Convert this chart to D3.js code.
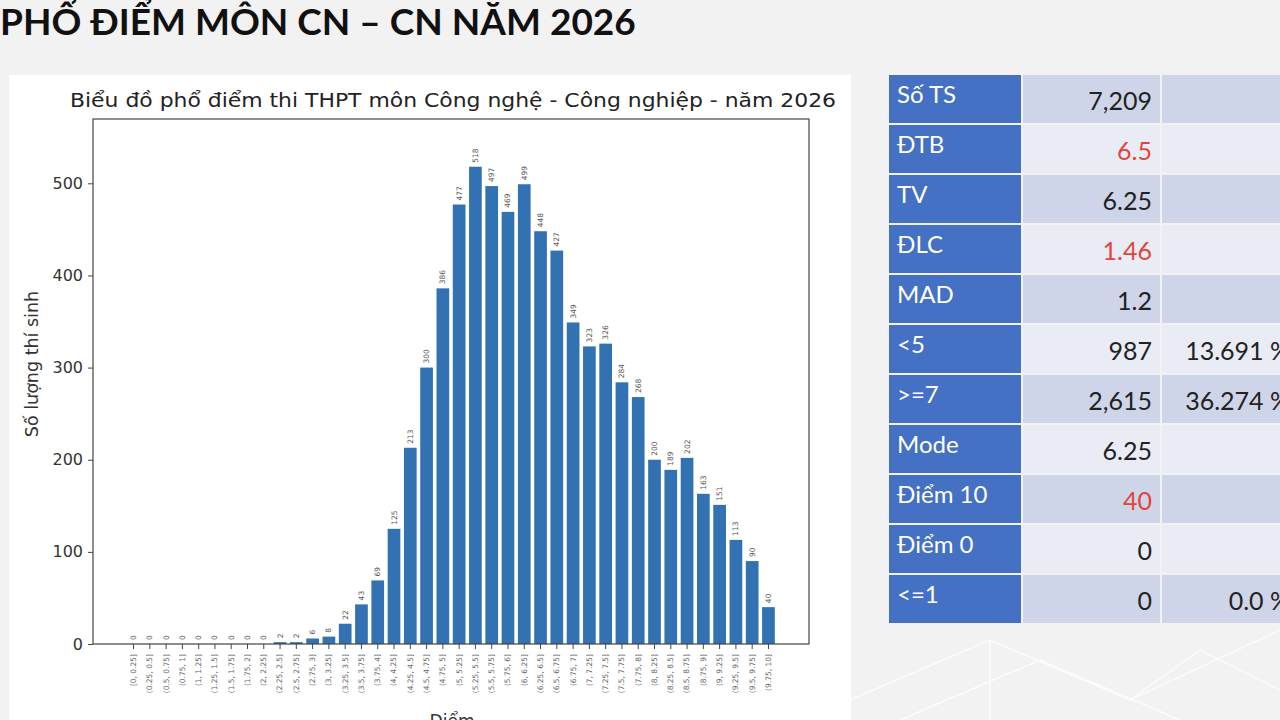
<!DOCTYPE html>
<html>
<head>
<meta charset="utf-8">
<script src="https://cdn.jsdelivr.net/npm/d3@7"></script>
<style>
  body { margin: 0; background: #f2f2f2; }
  svg { display: block; }
</style>
</head>
<body>
<div id="container"></div>
<script>
// score bins (0.25 wide) and counts
const bins = ["[0, 0.25]", "(0.25, 0.5]", "(0.5, 0.75]", "(0.75, 1]", "(1, 1.25]", "(1.25, 1.5]",
  "(1.5, 1.75]", "(1.75, 2]", "(2, 2.25]", "(2.25, 2.5]", "(2.5, 2.75]", "(2.75, 3]", "(3, 3.25]",
  "(3.25, 3.5]", "(3.5, 3.75]", "(3.75, 4]", "(4, 4.25]", "(4.25, 4.5]", "(4.5, 4.75]", "(4.75, 5]",
  "(5, 5.25]", "(5.25, 5.5]", "(5.5, 5.75]", "(5.75, 6]", "(6, 6.25]", "(6.25, 6.5]", "(6.5, 6.75]",
  "(6.75, 7]", "(7, 7.25]", "(7.25, 7.5]", "(7.5, 7.75]", "(7.75, 8]", "(8, 8.25]", "(8.25, 8.5]",
  "(8.5, 8.75]", "(8.75, 9]", "(9, 9.25]", "(9.25, 9.5]", "(9.5, 9.75]", "(9.75, 10]"];
const counts = [0, 0, 0, 0, 0, 0, 0, 0, 0, 2, 2, 6, 8, 22, 43, 69, 125, 213, 300, 386, 477, 518,
  497, 469, 499, 448, 427, 349, 323, 326, 284, 268, 200, 189, 202, 163, 151, 113, 90, 40];
const yTicks = [0, 100, 200, 300, 400, 500];

// stats table
const statLabels = ["Số TS", "ĐTB", "TV", "ĐLC", "MAD", "<5", ">=7", "Mode", "Điểm 10", "Điểm 0", "<=1"];
const statValues = ["7,209", "6.5", "6.25", "1.46", "1.2", "987", "2,615", "6.25", "40", "0", "0"];
const statPercents = ["", "", "", "", "", "13.691 %", "36.274 %", "", "", "", "0.0 %"];
const statRed = [false, true, false, true, false, false, false, false, true, false, false];

const W = 1280, H = 720;

const svg = d3.select("#container")
  .append("svg")
  .attr("width", W)
  .attr("height", H);

// faint background pattern, bottom right
const bgLine = d3.line();
[[[850, 700], [990, 640], [1130, 700], [1280, 630]],
 [[900, 720], [1040, 660], [1180, 720]],
 [[990, 640], [990, 720]],
 [[1130, 700], [1200, 650], [1280, 690]]].forEach(pts => {
  svg.append("path")
    .attr("d", bgLine(pts))
    .attr("fill", "none")
    .attr("stroke", "#fbfbfb")
    .attr("stroke-width", 1.5);
});

// page title
svg.append("text")
  .attr("x", 0)
  .attr("y", 35)
  .attr("font-family", "Lato, sans-serif")
  .attr("font-weight", "bold")
  .attr("font-size", 37)
  .attr("fill", "#111")
  .text("PHỔ ĐIỂM MÔN CN – CN NĂM 2026");

// white chart panel
svg.append("rect")
  .attr("x", 9).attr("y", 75)
  .attr("width", 842).attr("height", 660)
  .attr("fill", "#fff");

const plot = { left: 93, right: 809, top: 119, bottom: 644 };

const x = d3.scaleBand()
  .domain(bins)
  .range([plot.left, plot.right])
  .paddingInner(0.22)
  .paddingOuter(2.1);

const y = d3.scaleLinear()
  .domain([0, 569.8])
  .range([plot.bottom, plot.top]);

svg.append("text")
  .attr("x", 70)
  .attr("y", 107)
  .attr("textLength", 766)
  .attr("lengthAdjust", "spacingAndGlyphs")
  .attr("font-family", "DejaVu Sans, sans-serif")
  .attr("font-size", 19.5)
  .attr("fill", "#222")
  .text("Biểu đồ phổ điểm thi THPT môn Công nghệ - Công nghiệp - năm 2026");

// bars
svg.selectAll("rect.bar")
  .data(counts)
  .join("rect")
  .attr("class", "bar")
  .attr("x", (d, i) => x(bins[i]))
  .attr("y", d => y(d))
  .attr("width", x.bandwidth())
  .attr("height", d => plot.bottom - y(d))
  .attr("fill", "#3272b2");

// value labels above the bars
svg.selectAll("text.val")
  .data(counts)
  .join("text")
  .attr("class", "val")
  .attr("transform", (d, i) => `translate(${x(bins[i]) + x.bandwidth() / 2 + 2.5},${y(d) - 4}) rotate(-90)`)
  .attr("font-family", "DejaVu Sans, sans-serif")
  .attr("font-size", 7.5)
  .attr("fill", "#555")
  .text(d => d);

// axes
const yAxis = d3.axisLeft(y).tickValues(yTicks).tickSize(5).tickPadding(5);
const gy = svg.append("g")
  .attr("transform", `translate(${plot.left},0)`)
  .call(yAxis);
gy.select(".domain").remove();
gy.selectAll("line").attr("stroke", "#444");
gy.selectAll("text")
  .attr("font-family", "DejaVu Sans, sans-serif")
  .attr("font-size", 16)
  .attr("fill", "#333");

const xAxis = d3.axisBottom(x).tickSize(5).tickPadding(4);
const gx = svg.append("g")
  .attr("transform", `translate(0,${plot.bottom})`)
  .call(xAxis);
gx.select(".domain").remove();
gx.selectAll("line").attr("stroke", "#444");
gx.selectAll("text")
  .attr("font-family", "DejaVu Sans, sans-serif")
  .attr("font-size", 7.5)
  .attr("fill", "#666")
  .attr("text-anchor", "end")
  .attr("dy", "0.32em")
  .attr("transform", "translate(0,4) rotate(-90)")
  .attr("x", -6)
  .attr("y", 0);

// frame
svg.append("rect")
  .attr("x", plot.left).attr("y", plot.top)
  .attr("width", plot.right - plot.left).attr("height", plot.bottom - plot.top)
  .attr("fill", "none")
  .attr("stroke", "#444")
  .attr("stroke-width", 1.2);

// axis labels
svg.append("text")
  .attr("transform", "translate(38,364) rotate(-90)")
  .attr("text-anchor", "middle")
  .attr("font-family", "DejaVu Sans, sans-serif")
  .attr("font-size", 17.5)
  .attr("fill", "#333")
  .text("Số lượng thí sinh");

svg.append("text")
  .attr("x", 452)
  .attr("y", 727)
  .attr("text-anchor", "middle")
  .attr("font-family", "DejaVu Sans, sans-serif")
  .attr("font-size", 17)
  .attr("fill", "#333")
  .text("Điểm");

// stats table
const tbl = { x0: 889, x1: 1023, x2: 1162, x3: 1290, top: 75, rowH: 50, gap: 2 };
const rows = svg.selectAll("g.row")
  .data(statLabels)
  .join("g")
  .attr("class", "row")
  .attr("transform", (d, i) => `translate(0,${tbl.top + i * tbl.rowH})`);

rows.append("rect")
  .attr("x", tbl.x0).attr("y", 0)
  .attr("width", tbl.x1 - tbl.x0 - tbl.gap).attr("height", tbl.rowH - tbl.gap)
  .attr("fill", "#4471c3");
rows.append("rect")
  .attr("x", tbl.x1).attr("y", 0)
  .attr("width", tbl.x2 - tbl.x1 - tbl.gap).attr("height", tbl.rowH - tbl.gap)
  .attr("fill", (d, i) => i % 2 === 0 ? "#cfd5e9" : "#e9ecf5");
rows.append("rect")
  .attr("x", tbl.x2).attr("y", 0)
  .attr("width", tbl.x3 - tbl.x2).attr("height", tbl.rowH - tbl.gap)
  .attr("fill", (d, i) => i % 2 === 0 ? "#cfd5e9" : "#e9ecf5");

rows.append("text")
  .attr("x", tbl.x0 + 8)
  .attr("y", 28)
  .attr("font-family", "Lato, sans-serif")
  .attr("font-size", 24)
  .attr("fill", "#fff")
  .text(d => d);

rows.append("text")
  .attr("x", tbl.x2 - 10)
  .attr("y", 35)
  .attr("text-anchor", "end")
  .attr("font-family", "Lato, sans-serif")
  .attr("font-size", 25)
  .attr("fill", (d, i) => statRed[i] ? "#e5433a" : "#222")
  .text((d, i) => statValues[i]);

rows.append("text")
  .attr("x", tbl.x3)
  .attr("y", 35)
  .attr("text-anchor", "end")
  .attr("font-family", "Lato, sans-serif")
  .attr("font-size", 25)
  .attr("fill", "#222")
  .text((d, i) => statPercents[i]);
</script>
</body>
</html>
